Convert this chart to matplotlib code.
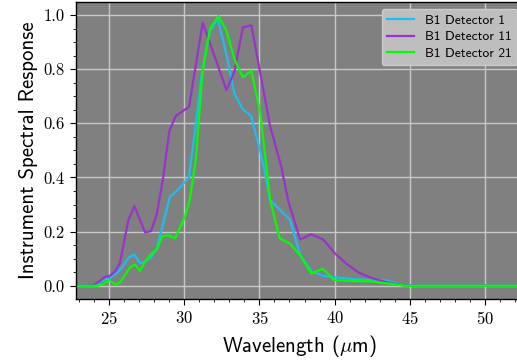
import matplotlib
matplotlib.use("Agg")
import matplotlib.pyplot as plt
from matplotlib.ticker import MultipleLocator, FormatStrFormatter

plt.rcParams['mathtext.fontset'] = 'cm'
plt.rcParams['axes.formatter.use_mathtext'] = True

# Data
det1_x = [22.76, 24.04, 24.38, 24.71, 25.0, 25.38, 25.71, 26.31, 26.67, 27.04, 27.38, 27.78,
          28.16, 28.53, 29.04, 29.45, 30.3, 30.7, 31.2, 31.7, 32.22, 32.82, 33.33, 33.89,
          34.44, 35.0, 35.38, 35.71, 37.04, 37.71, 38.49, 39.27, 40.04, 41.38, 42.49, 43.4,
          44.49, 45.0, 52.6]
det1_y = [0, 0, 0.015, 0.023, 0.028, 0.042, 0.058, 0.105, 0.115, 0.083, 0.089, 0.105,
          0.138, 0.218, 0.329, 0.348, 0.40, 0.57, 0.80, 0.94, 0.988, 0.85, 0.71, 0.652,
          0.627, 0.51, 0.415, 0.317, 0.243, 0.113, 0.052, 0.036, 0.031, 0.024, 0.021, 0.02,
          0.003, 0, 0]

det11_x = [22.76, 23.93, 24.38, 24.71, 25.0, 25.38, 25.71, 26.27, 26.67, 27.38, 27.78, 28.16,
           28.56, 29.0, 29.42, 30.31, 31.22, 32.8, 33.33, 33.89, 34.46, 35.71, 36.45, 36.93,
           37.71, 38.44, 39.24, 40.04, 40.82, 41.65, 42.55, 43.6, 44.55, 45.0, 52.6]
det11_y = [0, 0.002, 0.018, 0.033, 0.035, 0.052, 0.085, 0.243, 0.294, 0.197, 0.202, 0.264,
           0.39, 0.572, 0.627, 0.661, 0.972, 0.723, 0.79, 0.954, 0.962, 0.59, 0.44, 0.31,
           0.171, 0.19, 0.171, 0.119, 0.08, 0.047, 0.027, 0.011, 0.002, 0, 0]

det21_x = [22.76, 24.27, 24.67, 25.0, 25.38, 25.71, 26.04, 26.38, 26.71, 27.04, 27.38, 27.78,
           28.16, 28.53, 28.93, 29.38, 30.04, 30.35, 30.75, 31.22, 31.71, 32.27, 32.78, 33.35,
           33.9, 34.46, 35.05, 35.71, 36.35, 37.04, 37.71, 38.46, 39.21, 40.0, 41.38, 42.49,
           44.04, 44.7, 52.6]
det21_y = [0, 0, 0.009, 0.021, 0.004, 0.012, 0.039, 0.068, 0.078, 0.055, 0.089, 0.117,
           0.132, 0.183, 0.187, 0.175, 0.255, 0.317, 0.46, 0.797, 0.95, 0.996, 0.945, 0.835,
           0.77, 0.794, 0.64, 0.317, 0.175, 0.155, 0.113, 0.045, 0.063, 0.02, 0.017, 0.016,
           0.005, 0, 0]

labels = ["B1 Detector 1", "B1 Detector 11", "B1 Detector 21"]
colors = ["#19bff0", "#9933cc", "#00ff00"]

fig = plt.figure(figsize=(5.17, 3.63), dpi=100)
ax = fig.add_axes([75.7 / 517, 1 - 299 / 363, (523.7 - 75.7) / 517, (299 - 2.3) / 363])
ax.set_facecolor("#808080")

for xs, ys, lab, c in zip([det1_x, det11_x, det21_x], [det1_y, det11_y, det21_y], labels, colors):
    ax.plot(xs, ys, color=c, lw=1.6, label=lab)

ax.set_xlim(22.76, 52.6)
ax.set_ylim(-0.049, 1.047)
ax.xaxis.set_major_locator(MultipleLocator(5))
ax.xaxis.set_minor_locator(MultipleLocator(1))
ax.yaxis.set_major_locator(MultipleLocator(0.2))
ax.yaxis.set_minor_locator(MultipleLocator(0.05))
ax.yaxis.set_major_formatter(FormatStrFormatter("%.1f"))
ax.tick_params(which="major", length=4.5, width=0.8, labelsize=12)
ax.tick_params(which="minor", length=2.5, width=0.6)
for lbl in ax.get_xticklabels() + ax.get_yticklabels():
    lbl.set_fontfamily("cmr10")
ax.grid(True, which="major", color="#c8c8c8", lw=1.0)
ax.set_axisbelow(True)
for s in ax.spines.values():
    s.set_linewidth(1.0)

ax.set_xlabel(r"Wavelength ($\mu$m)", fontsize=15, fontfamily="cmss10")
ax.set_ylabel("Instrument Spectral Response", fontsize=15, fontfamily="cmss10")

leg = ax.legend(loc="upper right", prop={"family": "cmss10", "size": 9.7},
                facecolor="#bebebe", edgecolor="#cccccc", framealpha=1.0,
                labelspacing=0.3, borderaxespad=0,
                bbox_to_anchor=(516.7 / 517, 1 - 9 / 363), bbox_transform=fig.transFigure)

fig.savefig("out.png", dpi=100)
